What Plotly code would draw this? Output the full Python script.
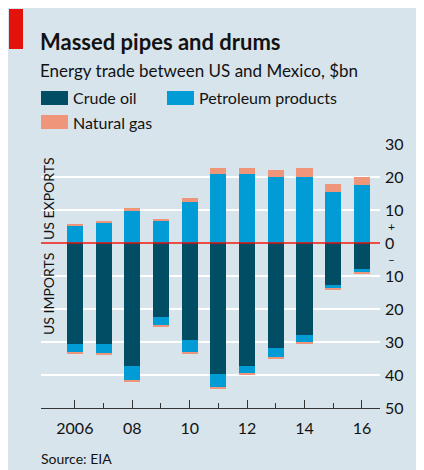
import plotly.graph_objects as go

years = [2006, 2007, 2008, 2009, 2010, 2011, 2012, 2013, 2014, 2015, 2016]

# US exports to Mexico, $bn
exp_petroleum = [5.3, 6.2, 9.9, 6.8, 12.3, 20.8, 20.8, 19.9, 19.9, 15.6, 17.5]
exp_gas = [0.3, 0.4, 0.6, 0.6, 1.2, 1.8, 1.8, 2.1, 2.7, 2.4, 2.4]

# US imports from Mexico, $bn
imp_crude = [30.5, 30.5, 37.2, 22.3, 29.5, 39.6, 37.2, 31.7, 27.8, 12.6, 7.8]
imp_petroleum = [2.7, 3.0, 4.5, 2.8, 3.7, 4.2, 2.4, 3.0, 2.4, 1.2, 1.2]
imp_gas = [0.2, 0.5, 0.2, 0.2, 0.2, 0.3, 0.5, 0.3, 0.2, 0.3, 0.2]

y_ticks = [-50, -40, -30, -20, -10, 0, 10, 20, 30]
y_ticktext = ["50", "40", "30", "20", "10", "0", "10", "20", "30"]
x_ticks = [2006, 2008, 2010, 2012, 2014, 2016]
x_ticktext = ["2006", "08", "10", "12", "14", "16"]
x_minor = [2007, 2009, 2011, 2013, 2015]

C_CRUDE = "#014d64"
C_PETRO = "#019bd6"
C_GAS = "#ef967a"
BG = "#d8e4eb"
RED = "#e3120b"
TXT = "#121212"
FONT = "Lato"

# the page's body has an 8px margin: work in screen pixels and shift
O = 8
W, H = 424 - O, 470 - O
L, R, T, B = 41 - O, 380 - O, 144 - O, 408 - O


def px(x):
    return (x - O - L) / (R - L)


def py(y):
    return (B - (y - O)) / (B - T)


fig = go.Figure()
bw = 0.56
fig.add_bar(x=years, y=exp_petroleum, marker_color=C_PETRO, width=bw, name="Petroleum products", showlegend=False)
fig.add_bar(x=years, y=exp_gas, marker_color=C_GAS, width=bw, name="Natural gas", showlegend=False)
fig.add_bar(x=years, y=[-v for v in imp_crude], marker_color=C_CRUDE, width=bw, name="Crude oil", showlegend=False)
fig.add_bar(x=years, y=[-v for v in imp_petroleum], marker_color=C_PETRO, width=bw, showlegend=False)
fig.add_bar(x=years, y=[-v for v in imp_gas], marker_color=C_GAS, width=bw, showlegend=False)
fig.update_traces(marker_line_width=0)

shapes = [
    dict(type="rect", xref="paper", yref="paper", x0=px(9), x1=px(23), y0=py(49), y1=py(9),
         fillcolor=RED, line_width=0, layer="above"),
    dict(type="line", xref="paper", yref="y", x0=0, x1=1, y0=0, y1=0,
         line=dict(color=RED, width=1.3), layer="above"),
    # legend swatches
    dict(type="rect", xref="paper", yref="paper", x0=px(41), x1=px(68), y0=py(105), y1=py(91),
         fillcolor=C_CRUDE, line_width=0),
    dict(type="rect", xref="paper", yref="paper", x0=px(167), x1=px(194), y0=py(105), y1=py(91),
         fillcolor=C_PETRO, line_width=0),
    dict(type="rect", xref="paper", yref="paper", x0=px(41), x1=px(68), y0=py(129), y1=py(115),
         fillcolor=C_GAS, line_width=0),
]


def ann(text, x, y, size, bold=False, angle=0, xanchor="left"):
    return dict(text=("<b>%s</b>" % text) if bold else text, x=px(x), y=py(y), xref="paper", yref="paper",
                xanchor=xanchor, yanchor="middle", showarrow=False, textangle=angle,
                font=dict(family=FONT, size=size, color=TXT))


annotations = [
    ann("Massed pipes and drums", 38, 41, 22, bold=True),
    ann("Energy trade between US and Mexico, $bn", 38, 71, 17),
    ann("Crude oil", 71, 98, 16),
    ann("Petroleum products", 197, 98, 16),
    ann("Natural gas", 71, 122, 16),
    ann("US EXPORTS", 48, 199, 14, angle=-90, xanchor="center"),
    ann("US IMPORTS", 48, 294, 14, angle=-90, xanchor="center"),
    ann("+", 386, 226, 12),
    ann("\u2013", 386, 259, 12),
    ann("Source: EIA", 39, 458, 14),
]

fig.update_layout(
    width=W, height=H,
    margin=dict(l=L, r=W - R, t=T, b=H - B, pad=0),
    paper_bgcolor=BG,
    plot_bgcolor=BG,
    barmode="relative",
    bargap=0,
    showlegend=False,
    font=dict(family=FONT, size=16, color=TXT),
    shapes=shapes,
    annotations=annotations,
    xaxis=dict(
        range=[2004.82, 2016.63],
        tickvals=x_ticks, ticktext=x_ticktext,
        ticks="inside", ticklen=8, tickcolor="#333333", tickwidth=1,
        minor=dict(tickvals=x_minor, ticks="inside", ticklen=5, tickcolor="#333333", tickwidth=1),
        showline=True, linecolor="#333333", linewidth=1,
        showgrid=False, zeroline=False,
        ticklabelstandoff=6,
        tickfont=dict(family=FONT, size=16, color=TXT),
        fixedrange=True,
    ),
    yaxis=dict(
        range=[-50, 30],
        side="right",
        tickvals=y_ticks, ticktext=y_ticktext,
        ticks="", showgrid=True, gridcolor="white", gridwidth=1.8,
        zeroline=False, showline=False,
        ticklabelstandoff=4,
        tickfont=dict(family=FONT, size=16, color=TXT),
        fixedrange=True,
    ),
)

fig.write_html("out.html")
